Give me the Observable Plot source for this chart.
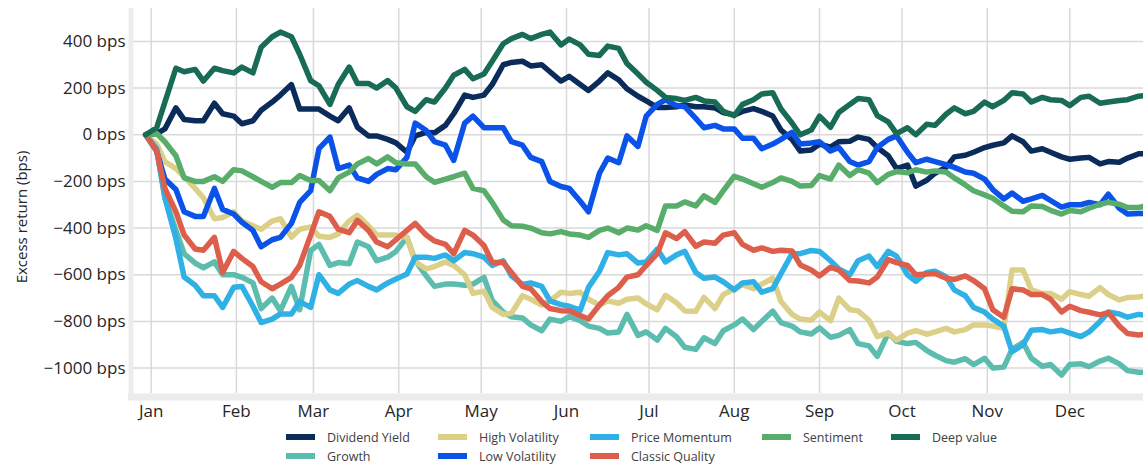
<!DOCTYPE html>
<html><head><meta charset="utf-8">
<script src="https://cdn.jsdelivr.net/npm/d3@7"></script>
<script src="https://cdn.jsdelivr.net/npm/@observablehq/plot@0.6"></script>
<style>
body{margin:0;background:#fff;font-family:"Open Sans",sans-serif;}
#wrap{position:relative;width:1143px;height:466px;overflow:hidden;background:#fff;}
#wrap svg{display:block;}
.item{position:absolute;display:flex;align-items:center;height:18px;font-size:12.5px;color:#404040;white-space:nowrap;}
.sw{width:29px;height:6px;margin-right:12px;flex:none;}
</style></head><body><div id="wrap"></div>
<script>
const dates = ["2022-12-30",
"2023-01-03","2023-01-06","2023-01-10","2023-01-13","2023-01-17","2023-01-20","2023-01-24","2023-01-27","2023-01-31",
"2023-02-03","2023-02-07","2023-02-10","2023-02-14","2023-02-17","2023-02-21","2023-02-24","2023-02-28",
"2023-03-03","2023-03-07","2023-03-10","2023-03-14","2023-03-17","2023-03-21","2023-03-24","2023-03-28","2023-03-31",
"2023-04-04","2023-04-07","2023-04-11","2023-04-14","2023-04-18","2023-04-21","2023-04-25","2023-04-28",
"2023-05-02","2023-05-05","2023-05-09","2023-05-12","2023-05-16","2023-05-19","2023-05-23","2023-05-26","2023-05-30",
"2023-06-02","2023-06-06","2023-06-09","2023-06-13","2023-06-16","2023-06-20","2023-06-23","2023-06-27","2023-06-30",
"2023-07-04","2023-07-07","2023-07-11","2023-07-14","2023-07-18","2023-07-21","2023-07-25","2023-07-28",
"2023-08-01","2023-08-04","2023-08-08","2023-08-11","2023-08-15","2023-08-18","2023-08-22","2023-08-25","2023-08-29",
"2023-09-01","2023-09-05","2023-09-08","2023-09-12","2023-09-15","2023-09-19","2023-09-22","2023-09-26","2023-09-29",
"2023-10-03","2023-10-06","2023-10-10","2023-10-13","2023-10-17","2023-10-20","2023-10-24","2023-10-27","2023-10-31",
"2023-11-03","2023-11-07","2023-11-10","2023-11-14","2023-11-17","2023-11-21","2023-11-24","2023-11-28",
"2023-12-01","2023-12-05","2023-12-08","2023-12-12","2023-12-15","2023-12-19","2023-12-22","2023-12-26","2023-12-29"];

const seriesNames = ["Dividend Yield","Growth","High Volatility","Low Volatility","Price Momentum","Classic Quality","Sentiment","Deep value"];
const seriesColors = ["#0b2c5b","#5cbcad","#dccf88","#0a52e8","#2fb1e6","#dd5e4b","#58ad6a","#186b54"];

const dividendYield = [0,
 5,25,115,65,60,60,135,90,80,
 47,60,105,140,170,215,110,110,
 110,80,60,115,32,-5,-5,-20,-35,
 -75,-5,10,8,40,90,170,160,
 170,215,300,310,315,295,300,270,230,
 250,215,190,230,265,235,197,165,145,
 117,117,120,128,120,120,115,95,
 85,100,112,100,80,20,-20,-70,-65,
 -40,-53,-30,-28,-10,-20,-55,-90,-145,
 -130,-220,-195,-165,-140,-95,-88,-75,-55,
 -45,-35,-5,-30,-70,-60,-75,-95,
 -105,-100,-97,-125,-115,-118,-100,-82,-82];

const growth = [0,
 -60,-270,-410,-510,-550,-570,-545,-600,-600,
 -611,-635,-745,-700,-754,-650,-750,-496,
 -470,-560,-548,-553,-460,-480,-540,-525,-500,
 -440,-540,-605,-650,-640,-640,-645,-640,
 -611,-710,-760,-780,-785,-815,-840,-790,-800,
 -780,-797,-820,-830,-850,-845,-770,-860,-845,
 -880,-830,-866,-911,-920,-870,-895,-840,
 -815,-790,-835,-800,-756,-805,-820,-845,-854,
 -828,-868,-860,-835,-895,-905,-950,-850,-885,
 -895,-890,-925,-945,-968,-975,-960,-985,-958,
 -1000,-996,-920,-890,-958,-992,-985,-1030,
 -985,-982,-994,-970,-958,-982,-1011,-1018,-1018];

const highVolatility = [0,
 -40,-115,-145,-180,-230,-270,-360,-355,-330,
 -370,-390,-405,-370,-360,-439,-405,-395,
 -435,-440,-425,-370,-345,-390,-430,-430,-430,
 -440,-545,-575,-565,-545,-560,-600,-680,
 -670,-740,-770,-765,-690,-705,-730,-712,-675,
 -680,-675,-705,-730,-712,-722,-705,-700,-725,
 -750,-688,-720,-755,-757,-697,-745,-685,
 -660,-643,-660,-640,-615,-715,-770,-790,-795,
 -760,-797,-700,-750,-755,-795,-865,-850,-880,
 -850,-840,-855,-845,-830,-845,-835,-815,-815,
 -820,-830,-580,-580,-665,-680,-680,-705,
 -672,-685,-692,-655,-685,-708,-698,-695,-690];

const lowVolatility = [0,
 -70,-190,-235,-330,-350,-350,-230,-320,-340,
 -375,-410,-480,-450,-440,-380,-290,-240,
 -60,-10,-145,-130,-185,-200,-170,-145,-150,
 -97,50,18,-30,-45,-110,50,80,
 30,30,30,-30,-45,-97,-115,-200,-222,
 -230,-285,-330,-165,-100,-120,-5,-50,80,
 130,150,125,120,70,30,40,25,
 25,-15,-15,-60,-40,-20,10,-40,-35,
 -30,-70,-55,-115,-130,-115,-55,-20,-5,
 -75,-120,-105,-115,-128,-140,-160,-165,-190,
 -235,-275,-250,-285,-275,-260,-282,-310,
 -300,-300,-290,-300,-255,-315,-340,-338,-338];

const priceMomentum = [0,
 -60,-270,-445,-610,-645,-690,-690,-740,-654,
 -650,-735,-805,-790,-768,-768,-715,-740,
 -600,-665,-680,-640,-625,-650,-665,-635,-618,
 -597,-525,-525,-530,-515,-540,-505,-510,
 -525,-560,-540,-605,-642,-635,-650,-712,-728,
 -735,-752,-654,-585,-505,-515,-510,-550,-545,
 -490,-545,-515,-500,-590,-615,-610,-630,
 -665,-635,-630,-675,-660,-595,-510,-510,-496,
 -500,-540,-575,-600,-540,-520,-565,-500,-520,
 -600,-628,-590,-585,-608,-665,-690,-740,-760,
 -790,-820,-930,-900,-838,-835,-845,-838,
 -850,-865,-845,-800,-760,-768,-782,-770,-775];

const classicQuality = [0,
 -70,-230,-330,-430,-490,-495,-440,-590,-500,
 -530,-565,-630,-660,-640,-611,-560,-430,
 -330,-350,-405,-420,-367,-410,-460,-480,-450,
 -410,-380,-430,-455,-470,-510,-410,-430,
 -475,-546,-548,-590,-650,-660,-715,-745,-754,
 -755,-775,-790,-730,-690,-654,-610,-600,-560,
 -510,-420,-445,-415,-478,-460,-465,-430,
 -420,-470,-495,-485,-500,-495,-498,-558,-580,
 -605,-568,-580,-625,-627,-635,-610,-535,-548,
 -560,-600,-597,-595,-615,-620,-605,-625,-660,
 -750,-782,-660,-665,-685,-685,-705,-760,
 -735,-754,-761,-772,-762,-820,-852,-858,-854];

const sentiment = [0,
 5,-30,-90,-185,-200,-200,-180,-200,-150,
 -155,-180,-200,-225,-205,-205,-175,-196,
 -196,-240,-185,-160,-125,-102,-125,-95,-120,
 -125,-125,-180,-204,-190,-180,-165,-230,
 -240,-290,-365,-390,-392,-400,-420,-425,-415,
 -425,-430,-440,-410,-400,-420,-400,-408,-390,
 -410,-305,-305,-288,-305,-262,-290,-240,
 -178,-190,-210,-225,-205,-185,-200,-220,-218,
 -175,-190,-130,-175,-150,-165,-205,-170,-158,
 -163,-150,-160,-155,-160,-185,-215,-240,-258,
 -272,-305,-328,-330,-305,-308,-324,-340,
 -325,-330,-315,-298,-290,-298,-312,-312,-305];

const deepValue = [0,
 30,140,285,270,280,230,285,275,265,
 290,265,375,420,440,420,345,232,
 210,130,215,290,220,220,200,232,200,
 120,100,150,140,200,255,280,240,
 260,315,390,412,430,412,430,440,385,
 410,385,345,340,380,370,305,260,225,
 190,160,155,147,160,145,140,100,
 82,130,150,175,180,110,50,0,20,
 80,32,95,130,155,150,82,55,5,
 30,0,45,40,88,115,90,100,140,
 120,147,180,175,140,160,150,147,
 125,160,165,135,140,147,150,165,168];

const yTicks = [-1000,-800,-600,-400,-200,0,200,400];
const monthTicks = ["2023-01-01","2023-02-01","2023-03-01","2023-04-01","2023-05-01","2023-06-01",
  "2023-07-01","2023-08-01","2023-09-01","2023-10-01","2023-11-01","2023-12-01"].map(d => new Date(d));
const yAxisTitle = "Excess return (bps)";

const seriesValues = [dividendYield, growth, highVolatility, lowVolatility, priceMomentum, classicQuality, sentiment, deepValue];
const rows = seriesNames.flatMap((name, i) =>
  dates.map((d, j) => ({date: new Date(d), value: seriesValues[i][j], series: name})));

const xDomain = [new Date(Date.UTC(2022, 11, 25, 14)), new Date(Date.UTC(2023, 11, 27, 19))];
const yDomain = [-1109, 541];
const fmt = d => `${String(d).replace("-", "\u2212")} bps`;

const chart = Plot.plot({
  width: 1143, height: 424,
  marginTop: 8, marginBottom: 31, marginLeft: 133, marginRight: 0,
  style: {fontFamily: "'Open Sans', sans-serif", fontSize: "17px", color: "#262626", background: "#fff"},
  x: {type: "utc", domain: xDomain},
  y: {domain: yDomain},
  color: {domain: seriesNames, range: seriesColors},
  marks: [
    Plot.ruleY(yTicks, {stroke: "#d9d9d9", strokeWidth: 1.5}),
    Plot.ruleX(monthTicks, {stroke: "#d9d9d9", strokeWidth: 1.5}),
    Plot.ruleX([xDomain[0]], {stroke: "#ececec", strokeWidth: 5, dx: -2.5, insetBottom: -7}),
    Plot.ruleY([yDomain[0]], {stroke: "#ececec", strokeWidth: 7, dy: 3.5, insetLeft: -5}),
    Plot.line(rows, {x: "date", y: "value", z: "series", stroke: "series", strokeWidth: 5.5,
      strokeLinejoin: "round", strokeLinecap: "round"}),
    Plot.axisY({ticks: yTicks, tickSize: 0, tickPadding: 8, tickFormat: fmt, fontSize: 17, label: null}),
    Plot.axisX({ticks: monthTicks, tickSize: 0, tickPadding: 11, tickFormat: d3.utcFormat("%b"), fontSize: 17, label: null}),
    Plot.text([yAxisTitle], {frameAnchor: "left", textAnchor: "middle", lineAnchor: "middle", rotate: -90,
      dx: -111, dy: 16, fontSize: 15, fill: "#262626"})
  ]
});

const wrap = document.getElementById("wrap");
wrap.appendChild(chart);

// legend (column-major, 5 columns x 2 rows)
const legendCols = [286, 438, 590, 762, 891];
const legendRows = [437, 456];
const legendSlots = [[0,0],[0,1],[1,0],[1,1],[2,0],[2,1],[3,0],[4,0]];
seriesNames.forEach((name, i) => {
  const [c, r] = legendSlots[i];
  const item = document.createElement("div");
  item.className = "item";
  item.style.left = legendCols[c] + "px";
  item.style.top = (legendRows[r] - 9) + "px";
  const sw = document.createElement("span");
  sw.className = "sw";
  sw.style.background = seriesColors[i];
  const tx = document.createElement("span");
  tx.textContent = name;
  item.appendChild(sw);
  item.appendChild(tx);
  wrap.appendChild(item);
});
</script></body></html>
